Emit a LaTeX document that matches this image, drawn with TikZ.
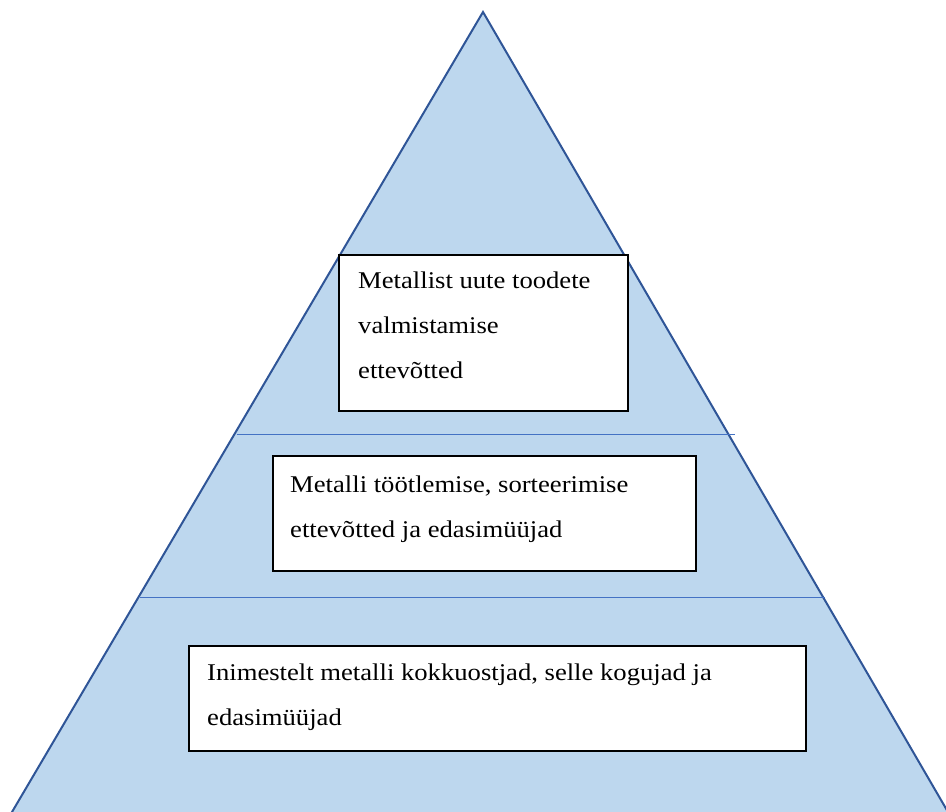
\documentclass[tikz,border=0pt]{standalone}
\usepackage{fontspec}
\setmainfont[FakeStretch=1.11]{Liberation Serif}
\usetikzlibrary{calc}
\definecolor{pyrfill}{HTML}{BDD7EE}
\definecolor{pyredge}{HTML}{2F5597}
\definecolor{sepline}{HTML}{4472C4}
\begin{document}
\begin{tikzpicture}[x=1pt,y=-1pt,
  levelbox/.style={draw=black, line width=1.5pt, fill=white, inner sep=0pt, anchor=north west},
  leveltext/.style={align=left, inner sep=0pt, anchor=base west,
    font=\fontsize{24}{45}\selectfont}]
\useasboundingbox (0,0) rectangle (946,812);
\clip (0,0) rectangle (946,812);
\coordinate (apex) at (483,12);
\coordinate (bl) at (12,812);
\coordinate (br) at (948,812);
\filldraw[fill=pyrfill, draw=pyredge, line width=2pt, line join=miter]
  (apex) -- ($(apex)!1.01!(bl)$) -- ($(apex)!1.01!(br)$) -- cycle;
\coordinate (s1a) at (237,434);
\coordinate (s1b) at (735,434);
\coordinate (s2a) at (140,597);
\coordinate (s2b) at (825,597);
\draw[sepline, line width=1pt] (s1a) -- (s1b);
\draw[sepline, line width=1pt] (s2a) -- (s2b);
\node[levelbox, minimum width=289pt, minimum height=156pt] (b1) at (338,254) {};
\node[levelbox, minimum width=423pt, minimum height=115pt] (b2) at (272,455) {};
\node[levelbox, minimum width=617pt, minimum height=105pt] (b3) at (188,645) {};
\node[leveltext] (t1) at (358,378) {Metallist uute toodete\\valmistamise\\ettevõtted};
\node[leveltext] (t2) at (290,537) {Metalli töötlemise, sorteerimise\\ettevõtted ja edasimüüjad};
\node[leveltext] (t3) at (207,725) {Inimestelt metalli kokkuostjad, selle kogujad ja\\edasimüüjad};
\end{tikzpicture}
\end{document}
